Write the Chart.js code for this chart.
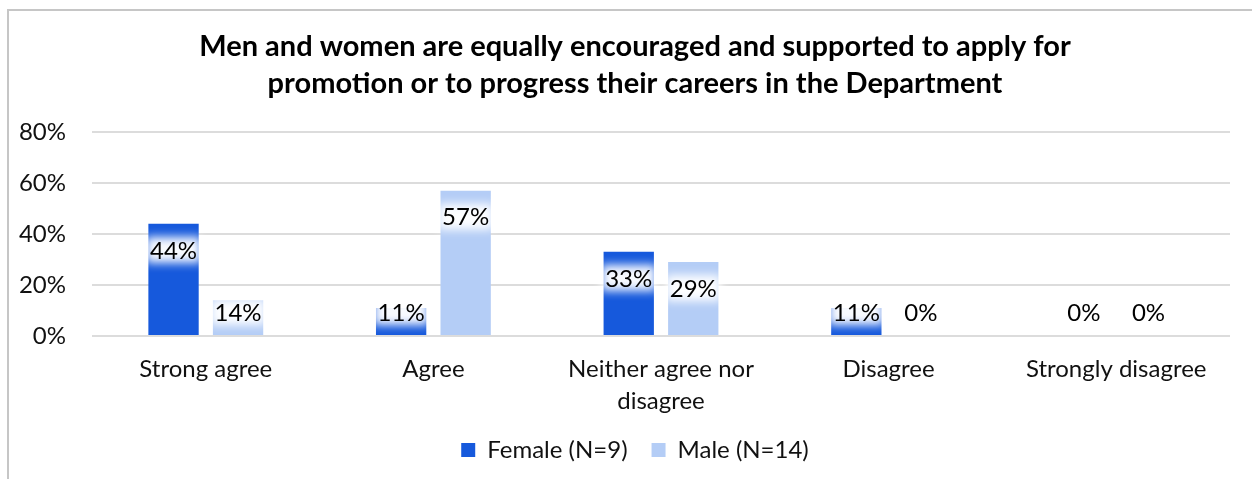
<!DOCTYPE html>
<html>
<head>
<meta charset="utf-8">
<script src="https://cdn.jsdelivr.net/npm/chart.js@4/dist/chart.umd.min.js"></script>
<style>
  html, body { margin: 0; padding: 0; background: #ffffff; }
  #wrap { position: relative; width: 1252px; height: 479px; }
</style>
</head>
<body>
<div id="wrap"><canvas id="chart" width="1252" height="479"></canvas></div>
<script>
// Survey responses, percent of each group
const categories = ['Strong agree', 'Agree', ['Neither agree nor', 'disagree'], 'Disagree', 'Strongly disagree'];
const female = [44, 11, 33, 11, 0];
const male = [14, 57, 29, 0, 0];
const seriesNames = ['Female (N=9)', 'Male (N=14)'];
const titleLines = ['Men and women are equally encouraged and supported to apply for',
                    'promotion or to progress their careers in the Department'];
const yMin = 0, yMax = 80, yStep = 20;

const FONT = 'Lato, "Open Sans", sans-serif';
const TEXT = '#111111';

// light frame along the top and left edges
const framePlugin = {
  id: 'frame',
  beforeDraw(chart) {
    const ctx = chart.ctx;
    ctx.save();
    ctx.strokeStyle = '#c6c6c6';
    ctx.lineWidth = 2;
    ctx.beginPath();
    ctx.moveTo(8, chart.height);
    ctx.lineTo(8, 10);
    ctx.lineTo(chart.width, 10);
    ctx.stroke();
    ctx.restore();
  }
};

// let the y tick labels use the space left of the axis box
const widenYLabels = {
  id: 'widenYLabels',
  afterLayout(chart) {
    chart.scales.y.left = 0;
  }
};

// value labels inside the bar tops with a soft white halo
const valueLabels = {
  id: 'valueLabels',
  afterDatasetsDraw(chart) {
    const ctx = chart.ctx;
    const yScale = chart.scales.y;
    const base = yScale.getPixelForValue(0);
    ctx.save();
    ctx.font = '24px ' + FONT;
    ctx.textAlign = 'center';
    ctx.textBaseline = 'middle';
    chart.data.datasets.forEach((ds, di) => {
      const meta = chart.getDatasetMeta(di);
      meta.data.forEach((bar, i) => {
        const txt = ds.data[i] + '%';
        const y = Math.min(bar.y + 26, base - 24);
        const w = ctx.measureText(txt).width;
        ctx.save();
        ctx.filter = 'blur(5px)';
        ctx.fillStyle = 'rgba(255,255,255,0.97)';
        ctx.fillRect(bar.x - w / 2 - 4, y - 13, w + 8, 26);
        ctx.restore();
        ctx.fillStyle = '#000';
        ctx.fillText(txt, bar.x, y + 1);
      });
    });
    ctx.restore();
  }
};

new Chart(document.getElementById('chart'), {
  type: 'bar',
  data: {
    labels: categories,
    datasets: [
      { label: seriesNames[0], data: female, backgroundColor: '#1659dc', borderWidth: 0 },
      { label: seriesNames[1], data: male, backgroundColor: '#b4cdf6', borderWidth: 0 }
    ]
  },
  options: {
    responsive: false,
    animation: false,
    events: [],
    layout: { padding: { left: 40, right: 22, top: 0, bottom: 7 } },
    datasets: { bar: { categoryPercentage: 0.567, barPercentage: 0.78 } },
    scales: {
      x: {
        grid: { display: false, drawTicks: false },
        border: { display: false },
        ticks: { color: TEXT, font: { family: FONT, size: 24, lineHeight: 1.3 }, padding: 18, maxRotation: 0, autoSkip: false },
        afterFit(scale) { scale.height = 78; }
      },
      y: {
        min: yMin, max: yMax,
        grid: { color: '#dcdcdc', lineWidth: 2, drawTicks: false },
        border: { display: false },
        ticks: { stepSize: yStep, color: TEXT, font: { family: FONT, size: 24 }, padding: 26,
                 callback: v => v + '%' },
        afterFit(scale) { scale.width = 52; }
      }
    },
    plugins: {
      title: {
        display: true,
        text: titleLines,
        color: '#000',
        font: { family: FONT, size: 29, weight: 'bold', lineHeight: 1.276 },
        padding: { top: 28.5, bottom: 29.5 }
      },
      legend: {
        position: 'bottom',
        labels: { color: TEXT, font: { family: FONT, size: 24 }, boxWidth: 14, boxHeight: 14, padding: 24 }
      },
      tooltip: { enabled: false }
    }
  },
  plugins: [framePlugin, widenYLabels, valueLabels]
});
</script>
</body>
</html>
